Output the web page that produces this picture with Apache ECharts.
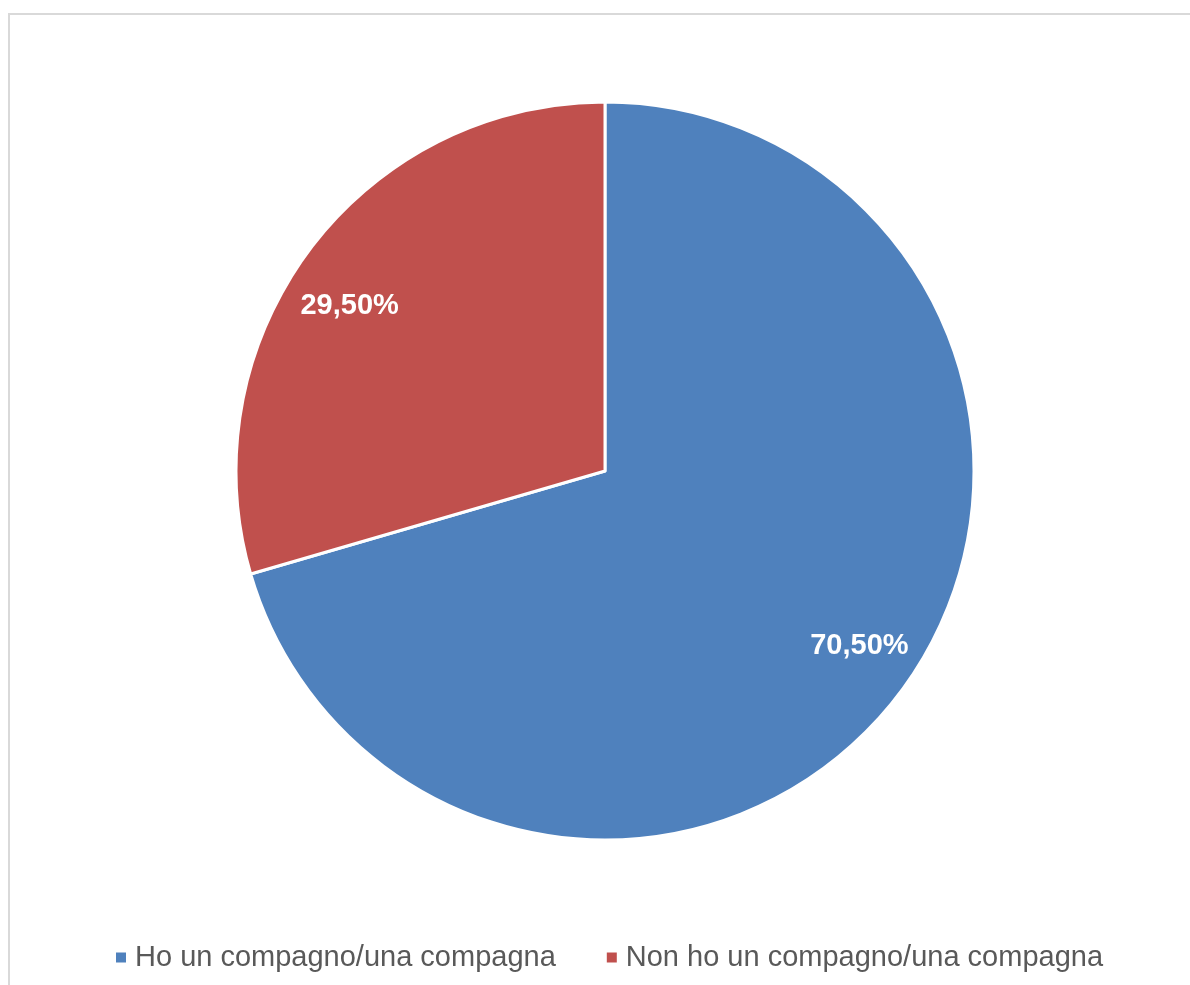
<!DOCTYPE html>
<html>
<head>
<meta charset="utf-8">
<style>
  html, body { margin: 0; padding: 0; background: #ffffff; }
  #chart { width: 1190px; height: 985px; }
</style>
<script src="https://cdn.jsdelivr.net/npm/echarts@6/dist/echarts.min.js"></script>
</head>
<body>
<div id="chart"></div>
<script>
// Risposte: situazione di coppia
const categories = ['Ho un compagno/una compagna', 'Non ho un compagno/una compagna'];
const shares = [70.5, 29.5];
const colors = ['#4f81bd', '#c0504d'];
// small nudges of each value label inside its slice (x, y)
const labelNudge = [[10, -8], [-11, 18]];

const fmt = v => v.toFixed(2).replace('.', ',') + '%';
const pieData = categories.map((name, i) => ({ name, value: shares[i] }));

// each label is a two-row rich text block: an empty spacer row and the value row,
// so the value row can sit a little off the slice's label anchor
const labelData = categories.map((name, i) => {
  const [dx, dy] = labelNudge[i];
  const gap = Math.abs(dy) * 2;
  const lines = dy >= 0 ? '{gap|}\n{v|' + fmt(shares[i]) + '}' : '{v|' + fmt(shares[i]) + '}\n{gap|}';
  return {
    name, value: shares[i],
    label: {
      formatter: lines,
      padding: dx >= 0 ? [0, 0, 0, dx * 2] : [0, -dx * 2, 0, 0],
      rich: {
        gap: { height: gap, lineHeight: gap },
        v: {
          color: '#ffffff',
          fontFamily: 'Liberation Sans, Arial, sans-serif',
          fontWeight: 'bold',
          fontSize: 29,
          lineHeight: 34
        }
      }
    }
  };
});

const chart = echarts.init(document.getElementById('chart'), null, { renderer: 'canvas' });

const center = [605, 471];
const radius = 369;

chart.setOption({
  animation: false,
  color: colors,
  graphic: [{
    type: 'rect',
    shape: { x: 9, y: 14, width: 1200, height: 1000 },
    style: { fill: 'none', stroke: '#d9d9d9', lineWidth: 2 },
    silent: true,
    z: -10
  }],
  legend: {
    data: categories,
    left: 111,
    top: 938,
    icon: 'rect',
    itemWidth: 10,
    itemHeight: 10,
    itemGap: 51,
    itemStyle: { borderWidth: 0 },
    textStyle: {
      color: '#595959',
      fontFamily: 'Liberation Sans, Arial, sans-serif',
      fontSize: 29,
      padding: [0, 0, 0, 4]
    }
  },
  series: [
    {
      type: 'pie',
      center: center,
      radius: [0, radius],
      startAngle: 90,
      clockwise: true,
      data: pieData,
      itemStyle: { borderColor: '#ffffff', borderWidth: 3 },
      label: { show: false },
      labelLine: { show: false },
      emphasis: { disabled: true }
    },
    {
      // value labels, placed on a ring so they sit toward the outer edge
      type: 'pie',
      center: center,
      radius: [radius * 0.64, radius],
      startAngle: 90,
      clockwise: true,
      silent: true,
      legendHoverLink: false,
      data: labelData,
      itemStyle: { color: 'rgba(0,0,0,0)' },
      label: {
        show: true,
        position: 'inside',
        color: '#ffffff',
        fontFamily: 'Liberation Sans, Arial, sans-serif',
        fontWeight: 'bold',
        fontSize: 29
      },
      labelLine: { show: false },
      emphasis: { disabled: true }
    }
  ]
});
</script>
</body>
</html>
